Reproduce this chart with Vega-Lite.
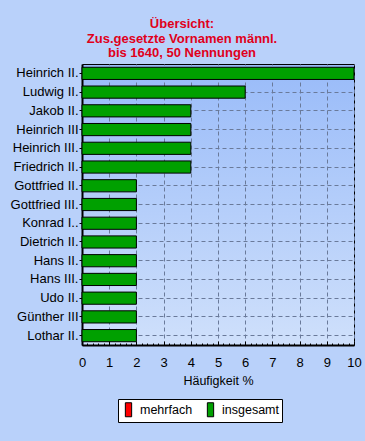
{
  "$schema": "https://vega.github.io/schema/vega-lite/v6.json",
  "width": 272,
  "height": 281,
  "autosize": {"type": "none"},
  "padding": {"left": 82, "top": 64, "right": 11, "bottom": 96},
  "background": "#b9d1fa",
  "title": {
    "text": ["Übersicht:", "Zus.gesetzte Vornamen männl.", "bis 1640, 50 Nennungen"],
    "color": "#e0001b",
    "font": "Liberation Sans",
    "fontSize": 13,
    "fontWeight": "bold",
    "anchor": "middle",
    "dx": -36,
    "offset": 4,
    "lineHeight": 14.5
  },
  "data": {
    "values": [
      {"name": "Heinrich II.", "value": 10, "serie": "insgesamt"},
      {"name": "Ludwig II.", "value": 6, "serie": "insgesamt"},
      {"name": "Jakob II.", "value": 4, "serie": "insgesamt"},
      {"name": "Heinrich III", "value": 4, "serie": "insgesamt"},
      {"name": "Heinrich III.", "value": 4, "serie": "insgesamt"},
      {"name": "Friedrich II.", "value": 4, "serie": "insgesamt"},
      {"name": "Gottfried II.", "value": 2, "serie": "insgesamt"},
      {"name": "Gottfried III.", "value": 2, "serie": "insgesamt"},
      {"name": "Konrad I..", "value": 2, "serie": "insgesamt"},
      {"name": "Dietrich II.", "value": 2, "serie": "insgesamt"},
      {"name": "Hans II.", "value": 2, "serie": "insgesamt"},
      {"name": "Hans III.", "value": 2, "serie": "insgesamt"},
      {"name": "Udo II.", "value": 2, "serie": "insgesamt"},
      {"name": "Günther III", "value": 2, "serie": "insgesamt"},
      {"name": "Lothar II.", "value": 2, "serie": "insgesamt"}
    ]
  },
  "mark": {"type": "bar", "stroke": "#000", "strokeWidth": 1},
  "encoding": {
    "y": {
      "field": "name",
      "type": "nominal",
      "sort": null,
      "scale": {"paddingInner": 0.35, "paddingOuter": 0.175},
      "axis": {
        "title": null,
        "grid": true,
        "bandPosition": 0.5,
        "gridColor": "#6a7a9a",
        "gridDash": [4, 3],
        "gridWidth": 1,
        "domainColor": "#000",
        "domainWidth": 2,
        "tickColor": "#000",
        "tickSize": 3,
        "labelPadding": 1,
        "labelFontSize": 13,
        "labelFont": "Liberation Sans",
        "labelColor": "#000"
      }
    },
    "x": {
      "field": "value",
      "type": "quantitative",
      "scale": {"domain": [0, 10], "nice": false},
      "axis": {
        "title": "Häufigkeit %",
        "values": [0, 0.2, 0.4, 0.6, 0.8, 1, 1.2, 1.4, 1.6, 1.8, 2, 2.2, 2.4, 2.6, 2.8, 3, 3.2, 3.4, 3.6, 3.8, 4, 4.2, 4.4, 4.6, 4.8, 5, 5.2, 5.4, 5.6, 5.8, 6, 6.2, 6.4, 6.6, 6.8, 7, 7.2, 7.4, 7.6, 7.8, 8, 8.2, 8.4, 8.6, 8.8, 9, 9.2, 9.4, 9.6, 9.8, 10],
        "labelExpr": "abs(datum.value - round(datum.value)) < 0.001 ? format(datum.value, 'd') : ''",
        "labelOverlap": false,
        "labelFlush": false,
        "grid": true,
        "gridOpacity": {"condition": {"test": "abs(datum.value - round(datum.value)) < 0.001", "value": 1}, "value": 0},
        "gridColor": "#6a7a9a",
        "gridDash": [4, 3],
        "gridWidth": 1,
        "domainColor": "#000",
        "domainWidth": 2,
        "ticks": true,
        "tickColor": "#000",
        "tickSize": {"condition": {"test": "abs(datum.value - round(datum.value)) < 0.001", "value": -4}, "value": -2},
        "labelPadding": 15,
        "labelFontSize": 13,
        "labelFont": "Liberation Sans",
        "labelColor": "#000",
        "titleFont": "Liberation Sans",
        "titleFontSize": 12.5,
        "titleFontWeight": "normal",
        "titleColor": "#000",
        "titlePadding": 3
      }
    },
    "color": {
      "field": "serie",
      "type": "nominal",
      "scale": {"domain": ["mehrfach", "insgesamt"], "range": ["#ff0000", "#00a000"]},
      "legend": {
        "title": null,
        "orient": "none",
        "legendX": 36,
        "legendY": 335,
        "direction": "horizontal",
        "fillColor": "#ffffff",
        "strokeColor": "#000000",
        "padding": 3,
        "columnPadding": 10,
        "symbolType": "M-0.45,-1H0.45V1H-0.45Z",
        "symbolSize": 196,
        "symbolStrokeColor": "#000",
        "symbolStrokeWidth": 1,
        "symbolOpacity": 1,
        "labelFontSize": 12.5,
        "labelFont": "Liberation Sans",
        "labelColor": "#000"
      }
    }
  },
  "config": {
    "view": {
      "stroke": "#000",
      "strokeWidth": 1,
      "fill": {"gradient": "linear", "x1": 0, "y1": 0, "x2": 0, "y2": 1, "stops": [{"offset": 0, "color": "#99bbf9"}, {"offset": 1, "color": "#cfe0fb"}]}
    }
  }
}
